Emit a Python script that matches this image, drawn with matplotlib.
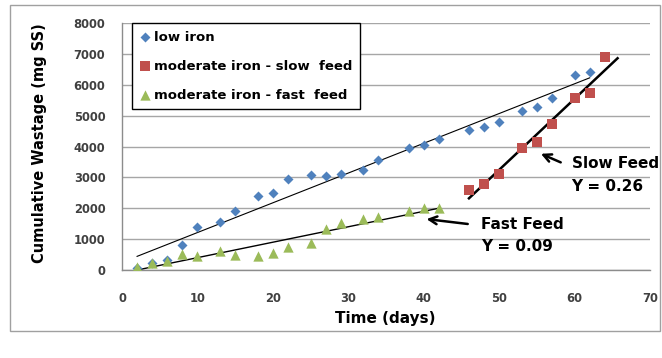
import numpy as np
import matplotlib
matplotlib.use("Agg")
import matplotlib.pyplot as plt
from matplotlib.patches import Rectangle

# Data
low_x = [2, 4, 6, 8, 10, 13, 15, 18, 20, 22, 25, 27, 29, 32, 34, 38, 40, 42, 46, 48, 50, 53, 55, 57, 60, 62]
low_y = [70, 240, 340, 800, 1390, 1550, 1900, 2390, 2490, 2950, 3070, 3050, 3100, 3250, 3560, 3960, 4060, 4230, 4550, 4640, 4800, 5160, 5280, 5560, 6300, 6420]

slow_x = [46, 48, 50, 53, 55, 57, 60, 62, 64]
slow_y = [2600, 2790, 3110, 3960, 4150, 4730, 5560, 5740, 6910]

fast_x = [2, 4, 6, 8, 10, 13, 15, 18, 20, 22, 25, 27, 29, 32, 34, 38, 40, 42]
fast_y = [100, 240, 300, 510, 450, 620, 490, 460, 540, 750, 860, 1330, 1520, 1660, 1710, 1910, 2000, 2000]

series_labels = ["low iron", "moderate iron - slow  feed", "moderate iron - fast  feed"]
x_ticks = [0, 10, 20, 30, 40, 50, 60, 70]
y_ticks = [0, 1000, 2000, 3000, 4000, 5000, 6000, 7000, 8000]

c_blue = "#4F81BD"
c_red = "#C0504D"
c_green = "#9BBB59"
FAM = "DejaVu Sans"

fig = plt.figure(figsize=(6.62, 3.58), dpi=100)
ax = fig.add_axes([122/662, 1-270/358, (650-122)/662, (270-23)/358])

# outer frame
fig.patches.append(Rectangle((10/662, 1-331/358), (660-10)/662, (331-5)/358,
                             transform=fig.transFigure, fill=False, edgecolor="#A0A0A0", lw=1.0))

ax.set_xlim(0, 70)
ax.set_ylim(0, 8000)
ax.set_xticks(x_ticks)
ax.set_yticks(y_ticks)
ax.grid(axis="y", color="#A6A6A6", lw=1.0)
ax.set_axisbelow(True)
for s in ["top", "right"]:
    ax.spines[s].set_visible(False)
for s in ["left", "bottom"]:
    ax.spines[s].set_color("#8C8C8C")
    ax.spines[s].set_linewidth(1.0)
ax.tick_params(length=0, labelsize=8.3, colors="#404040")
ax.tick_params(axis="x", pad=16)
ax.tick_params(axis="y", pad=12)
for lab in ax.get_xticklabels() + ax.get_yticklabels():
    lab.set_fontweight("bold")
    lab.set_family(FAM)

# trendlines
pl = np.polyfit(low_x, low_y, 1)
xl = np.array([min(low_x), max(low_x)])
ax.plot(xl, np.polyval(pl, xl), color="black", lw=0.8, zorder=2)

pf = np.polyfit(fast_x, fast_y, 1)
xf = np.array([min(fast_x), max(fast_x)])
ax.plot(xf, np.polyval(pf, xf), color="black", lw=1.0, zorder=2)

ps = np.polyfit(slow_x, slow_y, 1)
xs = np.array([min(slow_x), max(slow_x) + 1.7])
ax.plot(xs, np.polyval(ps, xs), color="black", lw=1.8, zorder=2)

ax.scatter(low_x, low_y, marker="D", s=26, color=c_blue, lw=0, zorder=3, label=series_labels[0])
ax.scatter(slow_x, slow_y, marker="s", s=48, color=c_red, lw=0, zorder=3, label=series_labels[1])
ax.scatter(fast_x, fast_y, marker="^", s=55, color=c_green, lw=0, zorder=3, label=series_labels[2])

leg = ax.legend(loc="upper left", bbox_to_anchor=(0.018, 1.0), borderaxespad=0,
                frameon=True, fancybox=False,
                edgecolor="black", framealpha=1, borderpad=0.6, labelspacing=1.2,
                handletextpad=0.2, handlelength=0.9, scatterpoints=1,
                prop={"family": FAM, "weight": "bold", "size": 9.5})
leg.get_frame().set_linewidth(1.0)

afont = {"family": FAM, "weight": "bold", "size": 11}
ax.annotate("", xy=(55.2, 3800), xytext=(58.5, 3450),
            arrowprops=dict(arrowstyle="->", color="black", lw=1.8, mutation_scale=14))
ax.text(59.6, 3450, "Slow Feed", va="center", ha="left", **afont)
ax.text(59.6, 2720, "Y = 0.26", va="center", ha="left", **afont)
ax.annotate("", xy=(40.0, 1660), xytext=(46.2, 1480),
            arrowprops=dict(arrowstyle="->", color="black", lw=1.8, mutation_scale=14))
ax.text(47.6, 1470, "Fast Feed", va="center", ha="left", **afont)
ax.text(47.6, 750, "Y = 0.09", va="center", ha="left", **afont)

fig.text(385/662, 1-318/358, "Time (days)", ha="center", va="center",
         family=FAM, weight="bold", size=11)
fig.text(40/662, 1-143/358, "Cumulative Wastage (mg SS)", ha="center", va="center",
         rotation=90, family=FAM, weight="bold", size=10.5)

fig.savefig("out.png", dpi=100)
